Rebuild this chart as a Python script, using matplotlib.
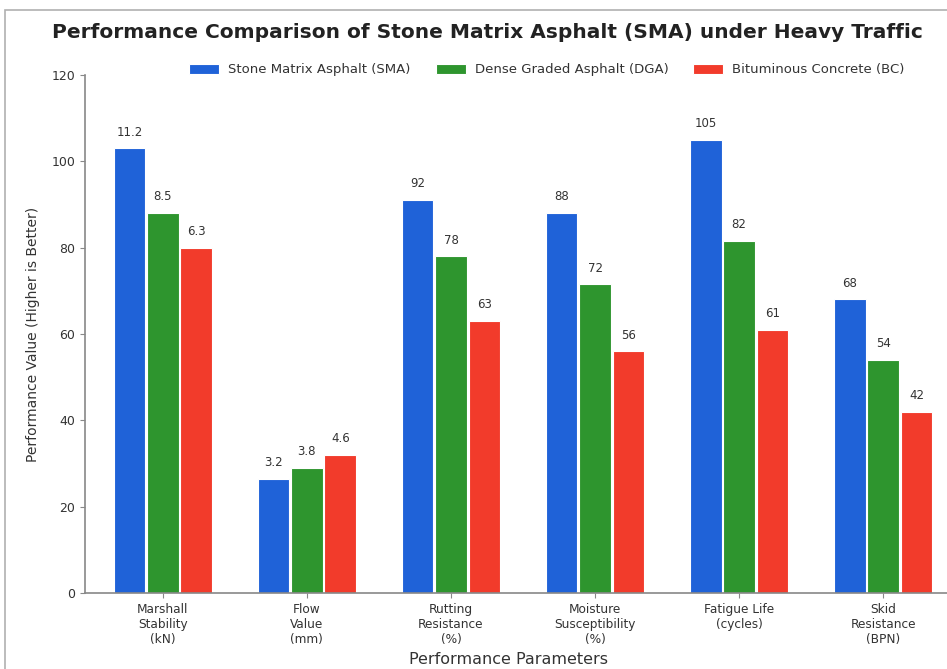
import numpy as np
import matplotlib
matplotlib.use('Agg')
import matplotlib.pyplot as plt
from matplotlib.patches import Rectangle

# Parameters and series (bar heights are normalised scores, labels are raw values)
categories = ['Marshall\nStability\n(kN)', 'Flow\nValue\n(mm)', 'Rutting\nResistance\n(%)',
              'Moisture\nSusceptibility\n(%)', 'Fatigue Life\n(cycles)', 'Skid\nResistance\n(BPN)']
series_names = ['Stone Matrix Asphalt (SMA)', 'Dense Graded Asphalt (DGA)', 'Bituminous Concrete (BC)']

sma_heights = [103, 26.5, 91, 88, 105, 68]
dga_heights = [88, 29, 78, 71.5, 81.5, 54]
bc_heights = [80, 32, 63, 56, 61, 42]

sma_labels = ['11.2', '3.2', '92', '88', '105', '68']
dga_labels = ['8.5', '3.8', '78', '72', '82', '54']
bc_labels = ['6.3', '4.6', '63', '56', '61', '42']

colors = ['#1f62d8', '#2e952e', '#f23b2b']

fig = plt.figure(figsize=(9.47, 6.69), dpi=100)
fig.patch.set_facecolor('white')
# light frame around the figure
fig.patches.append(Rectangle((5 / 947, -0.1), 1.2, 1 - 10 / 669 + 0.1, transform=fig.transFigure,
                             fill=False, edgecolor='#b0b0b0', linewidth=1.2))

ax = fig.add_axes([85 / 947, 1 - 593 / 669, (961 - 85) / 947, (593 - 75) / 669])

x = np.arange(len(categories))
width = 0.22
offset = 0.232
all_heights = [sma_heights, dga_heights, bc_heights]
all_labels = [sma_labels, dga_labels, bc_labels]

handles = []
for i, (h, lab) in enumerate(zip(all_heights, all_labels)):
    bars = ax.bar(x + (i - 1) * offset, h, width, color=colors[i], edgecolor='white',
                  linewidth=0.8, label=series_names[i])
    handles.append(bars)
    for b, t in zip(bars, lab):
        ax.annotate(t, (b.get_x() + b.get_width() / 2, b.get_height()),
                    xytext=(0, 7), textcoords='offset points', ha='center', va='bottom',
                    fontsize=8.5, color='#333333')

ax.set_xlim(-0.54, 5.54)
ax.set_ylim(0, 120)
ax.set_yticks(range(0, 121, 20))
ax.set_xticks(x)
ax.set_xticklabels(categories, fontsize=8.7, color='#333333')
ax.tick_params(axis='y', labelsize=9, colors='#333333')
ax.tick_params(axis='both', color='#888888')
for s in ['top', 'right']:
    ax.spines[s].set_visible(False)
for s in ['left', 'bottom']:
    ax.spines[s].set_color('#888888')
    ax.spines[s].set_linewidth(1.2)

ax.set_ylabel('Performance Value (Higher is Better)', fontsize=10, color='#333333', labelpad=8)
ax.set_xlabel('Performance Parameters', fontsize=11.5, color='#333333')
ax.xaxis.set_label_coords((508 - 85) / (961 - 85), -(659 - 593) / (593 - 75))
ax.xaxis.label.set_va('center')

fig.text(487 / 947, 1 - 33 / 669, 'Performance Comparison of Stone Matrix Asphalt (SMA) under Heavy Traffic',
         ha='center', va='center', fontsize=14.5, fontweight='bold', color='#222222')

fig.legend(handles=handles, loc='center', bbox_to_anchor=(547 / 947, 1 - 70 / 669), ncol=3,
           frameon=False, fontsize=9.5, handlelength=2.27, handleheight=0.7, handletextpad=0.68,
           columnspacing=1.9, labelcolor='#333333')

fig.savefig('out.png', dpi=100)
